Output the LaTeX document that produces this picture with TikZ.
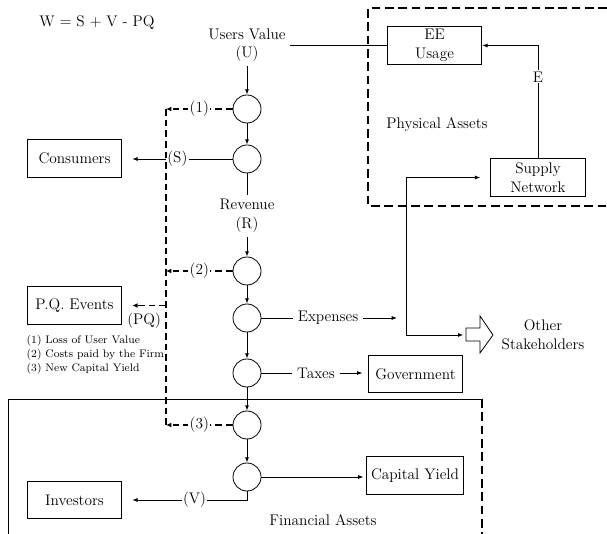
\documentclass[tikz,border=0pt]{standalone}
\usetikzlibrary{arrows.meta}
\begin{document}
\begin{tikzpicture}[x=0.75pt,y=-0.75pt,
    every node/.style={font=\fontsize{11.5}{14}\selectfont},
    box/.style={draw, line width=0.6pt, minimum width=71pt, minimum height=28pt},
    flow/.style={draw, circle, line width=0.6pt, minimum size=21pt, inner sep=0pt},
    arr/.style={-{Latex[length=4pt,width=3pt]}, line width=0.6pt},
    dasharr/.style={-{Latex[length=4pt,width=3.5pt]}, line width=1.2pt, dash pattern=on 5pt off 3pt},
    bigdash/.style={line width=1.3pt, dash pattern=on 6.5pt off 3.5pt},
    lbl/.style={fill=white, inner sep=1pt}]
  \useasboundingbox (0,0) rectangle (607,534);

  % asset regions
  \draw[bigdash] (607,8) -- (368,8) -- (368,206) -- (607,206);
  \draw[line width=0.6pt] (8,534) -- (8,399) -- (482,399);
  \draw[bigdash] (482,399) -- (482,534);
  \node (phys) at (437,125) {Physical Assets};
  \node (fin) at (323,520) {Financial Assets};
  \node (formula) at (97,23) {W = S + V - PQ};

  % flow chain
  \node[align=center] (users) at (247,45) {Users Value\\(U)};
  \node[flow] (c1) at (247,109) {};
  \node[flow] (c2) at (247,159) {};
  \node[align=center] (rev) at (247,216) {Revenue\\(R)};
  \node[flow] (c3) at (247,271) {};
  \node[flow] (c4) at (247,318) {};
  \node[flow] (c5) at (247,373) {};
  \node[flow] (c6) at (247,425) {};
  \node[flow] (c7) at (247,477) {};

  % boxes
  \node[box] (ee) at (434.5,45.5) {};
  \node[align=center] at (ee) {EE\\Usage};
  \node[box, minimum height=29pt, align=center] (supply) at (538,177.5) {Supply\\Network};
  \node[box] (cons) at (74.5,158.5) {Consumers};
  \node[box] (pq) at (74.5,305.5) {P.Q. Events};
  \node[box] (inv) at (74.5,500) {Investors};
  \node[box] (gov) at (415.5,374) {Government};
  \node[box] (cap) at (415,475.5) {Capital Yield};

  % labels
  \node (exp) at (328,318) {Expenses};
  \node (tax) at (316,373) {Taxes};
  \node[align=center] (stake) at (543,335) {Other\\Stakeholders};
  \node[anchor=west, align=left, font=\fontsize{8.2}{10.5}\selectfont] (legend) at (22,355)
    {(1) Loss of User Value\\(2) Costs paid by the Firm\\(3) New Capital Yield};

  \coordinate (dtop) at (166,109);
  \coordinate (dbot) at (166,425);
  \coordinate (expend) at (397,318);
  \coordinate (fork) at (406,335);
  \coordinate (other) at (466,335);

  \draw[line width=0.6pt] (466,328) -- (480,328) -- (480,316) -- (493,335)
    -- (480,353) -- (480,341) -- (466,341) -- cycle;

  \begin{scope}[arr]
    \draw (users) -- (c1);
    \draw (c1) -- (c2);
    \draw[-] (c2) -- (rev);
    \draw (rev) -- (c3);
    \draw (c3) -- (c4);
    \draw (c4) -- (c5);
    \draw (c5) -- (c6);
    \draw (c6) -- (c7);
    \draw[-] (users.east) -- (users.east -| ee.west);
    \draw (supply.north) |- (ee.east) node[pos=0.36, lbl] {E};
    \draw[shorten >=7.5pt] (c2.west) -- (c2.west -| cons.east) node[midway, lbl] {(S)};
    \draw[-] (c4.east) -- (exp.west);
    \draw (exp.east) -- (expend);
    \draw[shorten >=7.5pt] (fork) |- (supply.west);
    \draw[shorten >=2pt] (fork) -- (other);
    \draw[-] (c5.east) -- (c5.east -| tax.west);
    \draw[shorten >=4pt] (tax.east) -- (tax.east -| gov.west);
    \draw[shorten >=2pt] (c7.east) -- (c7.east -| cap.west);
    \draw[shorten >=7.5pt] (c7.south) |- (inv.east) node[pos=0.71, lbl] {(V)};
  \end{scope}

  \begin{scope}[dasharr]
    \draw[-] (dtop) -- (dbot);
    \draw (c1.west) -- (dtop) node[midway, lbl] {(1)};
    \draw (c3.west) -- (c3.west -| dtop) node[midway, lbl] {(2)};
    \draw (c6.west) -- (dbot) node[midway, lbl] {(3)};
    \draw[shorten >=7.5pt] (pq.east -| dtop) -- (pq.east) node[midway, below=2pt] {(PQ)};
  \end{scope}
\end{tikzpicture}
\end{document}
